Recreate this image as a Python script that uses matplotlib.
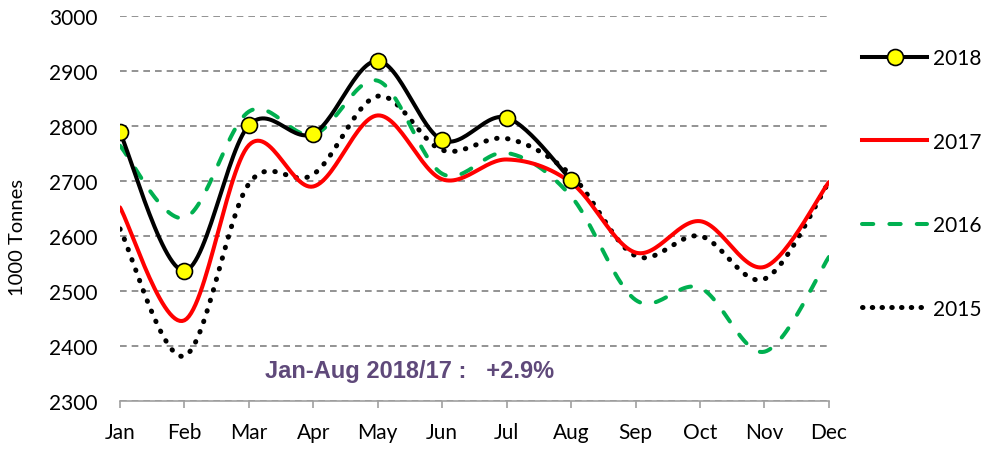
import numpy as np
import matplotlib
matplotlib.use("Agg")
import matplotlib.pyplot as plt
from matplotlib.lines import Line2D

months = ["Jan", "Feb", "Mar", "Apr", "May", "Jun", "Jul", "Aug", "Sep", "Oct", "Nov", "Dec"]

y2018 = [2788, 2537, 2801, 2786, 2918, 2774, 2815, 2702]
y2017 = [2652, 2447, 2765, 2690, 2819, 2703, 2739, 2697, 2570, 2627, 2544, 2698]
y2016 = [2764, 2633, 2826, 2784, 2882, 2713, 2751, 2672, 2484, 2506, 2390, 2562]
y2015 = [2613, 2382, 2695, 2712, 2854, 2756, 2777, 2711, 2564, 2600, 2522, 2698]

note = "Jan-Aug 2018/17 :   +2.9%"

plt.rcParams['font.family'] = ['Lato', 'DejaVu Sans']


def smooth(vals, n=30):
    # excel-ish smoothed line: catmull-rom as cubic bezier
    p = np.column_stack([np.arange(len(vals)), np.array(vals, dtype=float)])
    xs, ys = [], []
    t = np.linspace(0, 1, n)[:, None]
    for i in range(len(p) - 1):
        p0 = p[i - 1] if i > 0 else p[i]
        p1 = p[i]
        p2 = p[i + 1]
        p3 = p[i + 2] if i + 2 < len(p) else p[i + 1]
        c1 = p1 + (p2 - p0) / 6
        c2 = p2 - (p3 - p1) / 6
        b = ((1 - t) ** 3) * p1 + 3 * ((1 - t) ** 2) * t * c1 + 3 * (1 - t) * t ** 2 * c2 + t ** 3 * p2
        if i > 0:
            b = b[1:]
        xs.append(b[:, 0])
        ys.append(b[:, 1])
    return np.concatenate(xs), np.concatenate(ys)


fig = plt.figure(figsize=(9.86, 4.52), dpi=100)
ax = fig.add_axes([0.1217, 0.11, 0.719, 0.853])

lw = 2.9
x, y = smooth(y2015)
ax.plot(x, y, color='black', lw=3.6, linestyle=(0, (0.1, 2.1)), dash_capstyle='round')
x, y = smooth(y2016)
ax.plot(x, y, color='#00B050', lw=lw, linestyle=(0, (2.8, 4)), dash_capstyle='round')
x, y = smooth(y2017)
ax.plot(x, y, color='#FF0000', lw=lw, solid_capstyle='round')
x, y = smooth(y2018)
ax.plot(x, y, color='black', lw=lw, solid_capstyle='round')
ax.plot(np.arange(len(y2018)), y2018, linestyle='none', marker='o', ms=11.5,
        mfc='#FFFF00', mec='black', mew=1.2, zorder=5)

ax.set_xlim(0, 11)
ax.set_ylim(2300, 3000)
ax.set_yticks(np.arange(2300, 3001, 100))
ax.set_xticks(np.arange(12))
ax.set_xticklabels(months)
ax.yaxis.grid(True, color='#808080', linestyle=(0, (4, 3)), lw=1.2)
ax.set_axisbelow(True)
for s in ['left', 'right', 'top']:
    ax.spines[s].set_visible(False)
ax.spines['bottom'].set_color('#A0A0A0')
ax.spines['bottom'].set_linewidth(1.2)
ax.tick_params(axis='y', length=0, pad=16, labelsize=15)
ax.tick_params(axis='x', length=5, width=1.2, color='#A0A0A0', pad=10, labelsize=15)

fig.text(0.018, 0.475, "1000 Tonnes", rotation=90, ha='center', va='center', fontsize=14.5)

ax.text(0.409, 0.08, note, transform=ax.transAxes, ha='center', va='center',
        fontsize=17, fontweight='bold', color='#5F497A', family='Liberation Sans')

handles = [
    Line2D([], [], color='black', lw=lw, marker='o', ms=11.5, mfc='#FFFF00', mec='black', mew=1.2),
    Line2D([], [], color='#FF0000', lw=lw),
    Line2D([], [], color='#00B050', lw=lw, linestyle=(0, (2.8, 4)), dash_capstyle='round'),
    Line2D([], [], color='black', lw=3.6, linestyle=(0, (0.1, 1.85)), dash_capstyle='round'),
]
fig.legend(handles, ["2018", "2017", "2016", "2015"], loc='upper left',
           bbox_to_anchor=(0.866, 0.91), frameon=False, fontsize=15,
           handlelength=3.1, handletextpad=0.3, labelspacing=3.05, borderaxespad=0)

fig.savefig("out.png", dpi=100)
